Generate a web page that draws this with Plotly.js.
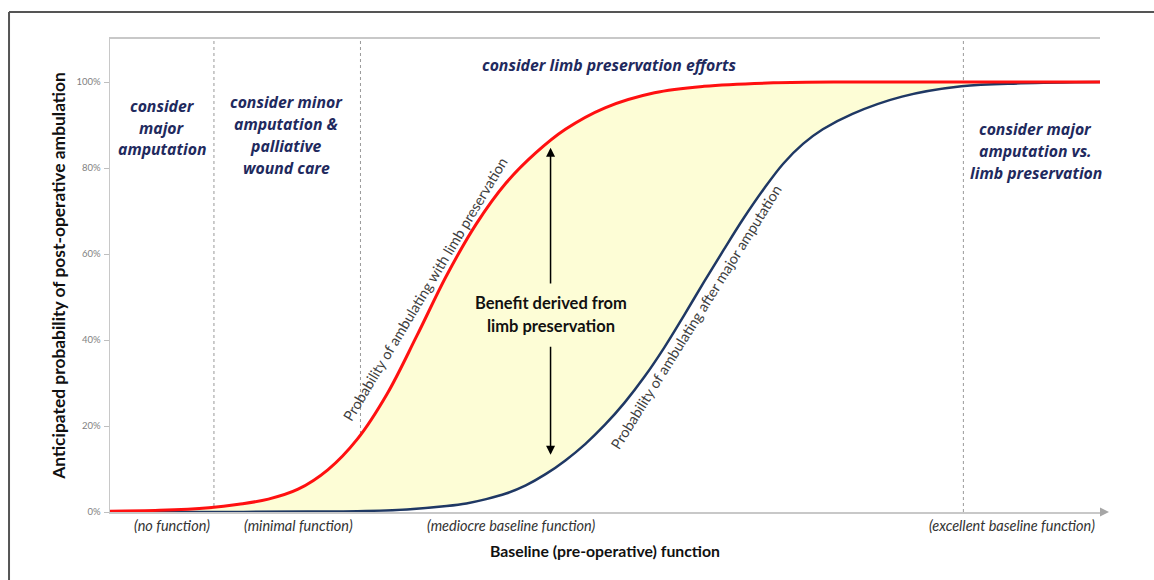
<!DOCTYPE html>
<html>
<head>
<meta charset="utf-8">
<script src="https://cdn.plot.ly/plotly-3.0.1.min.js"></script>
<style>
  html, body { margin: 0; padding: 0; background: #fff; }
  #chart { width: 1154px; height: 580px; }
</style>
</head>
<body>
<div id="chart"></div>
<script>
// ---- data ----
const limbX = [0, 5, 10, 13, 16, 19, 22, 25, 28, 31, 34, 37, 40, 43, 46, 50, 55, 60, 67, 75, 100];
const limbY = [0.2, 0.4, 1.0, 1.8, 3.0, 5.3, 9.8, 17, 27.5, 41, 55, 67, 76.5, 83.5, 89, 94, 97.5, 99, 99.8, 100, 100];

const ampX = [0, 10, 20, 25, 30, 34, 36, 38, 40, 42, 44, 46, 48, 50, 52, 54, 56, 58, 60, 62, 64, 66, 68, 70, 72, 75, 80, 86, 92, 100];
const ampY = [0, 0, 0.1, 0.2, 0.6, 1.4, 2, 3, 4.3, 6.2, 8.8, 12, 15.8, 20.3, 25.5, 31.5, 38.3, 45.8, 53.5, 61, 68.3, 75, 81, 85.6, 89, 92.6, 96.6, 99, 99.7, 100];

const yTickVals = [0, 20, 40, 60, 80, 100];
const yTickText = ['0%', '20%', '40%', '60%', '80%', '100%'];

const zoneBounds = [10.5, 25.3, 86.2];

const zoneLabels = [
  ['consider', 'major', 'amputation'],
  ['consider minor', 'amputation &', 'palliative', 'wound care'],
  ['consider limb preservation efforts'],
  ['consider major', 'amputation vs.', 'limb preservation']
];
const baselineLabels = ['(no function)', '(minimal function)', '(mediocre baseline function)', '(excellent baseline function)'];
const curveLabels = ['Probability of ambulating with limb preservation', 'Probability of ambulating after major amputation'];
const benefitLabel = ['Benefit derived from', 'limb preservation'];
const xTitle = 'Baseline (pre-operative) function';
const yTitle = 'Anticipated probability of post-operative ambulation';

// ---- styling / positions ----
const NAVY = '#1f2a5e';
const FONT = 'Lato, "Open Sans", sans-serif';
const labelFont = { family: '"Open Sans", Lato, sans-serif', size: 15.8, color: NAVY, weight: 'bold', style: 'italic' };

const zonePos = [
  { x: 5.3, y: 89.4, step: 5.04 },
  { x: 17.8, y: 87.7, step: 5.07 },
  { x: 50.4, y: 104.0, step: 5 },
  { x: 93.5, y: 84.0, step: 5.05 }
];

const annotations = [];
zoneLabels.forEach((lines, i) => {
  const p = zonePos[i];
  const n = lines.length;
  lines.forEach((t, j) => {
    annotations.push({
      x: p.x, y: p.y + ((n - 1) / 2 - j) * p.step, xref: 'x', yref: 'y',
      text: t, showarrow: false, font: labelFont, xanchor: 'center', yanchor: 'middle'
    });
  });
});

const baseX = [6.3, 19.0, 40.6, 91.1];
baselineLabels.forEach((t, i) => {
  annotations.push({
    x: baseX[i], y: -13 / 473, xref: 'x', yref: 'paper', text: t, showarrow: false,
    font: { family: FONT, size: 14.5, color: '#333', style: 'italic' },
    xanchor: 'center', yanchor: 'middle'
  });
});

// curve labels
annotations.push({
  x: 31.8, y: 51.8, xref: 'x', yref: 'y', text: curveLabels[0], showarrow: false,
  textangle: -59, font: { family: FONT, size: 14.5, color: '#404040' }
});
annotations.push({
  x: 59.15, y: 45.3, xref: 'x', yref: 'y', text: curveLabels[1], showarrow: false,
  textangle: -58, font: { family: FONT, size: 14.5, color: '#404040' }
});

// benefit label
benefitLabel.forEach((t, j) => {
  annotations.push({
    x: 44.5, y: 46.0 + (0.5 - j) * 5.35, xref: 'x', yref: 'y', text: t, showarrow: false,
    font: { family: FONT, size: 16.5, color: '#111', weight: 'bold' }
  });
});

// double arrow (two halves)
annotations.push({
  x: 44.5, y: 84.7, ax: 44.5, ay: 52.8, xref: 'x', yref: 'y', axref: 'x', ayref: 'y',
  text: '', showarrow: true, arrowhead: 2, arrowsize: 1.2, arrowwidth: 1.5, arrowcolor: '#000'
});
annotations.push({
  x: 44.5, y: 13.3, ax: 44.5, ay: 38.8, xref: 'x', yref: 'y', axref: 'x', ayref: 'y',
  text: '', showarrow: true, arrowhead: 2, arrowsize: 1.2, arrowwidth: 1.5, arrowcolor: '#000'
});

// shapes
const shapes = zoneBounds.map(v => ({
  type: 'line', xref: 'x', yref: 'paper', x0: v, x1: v, y0: 0, y1: 1,
  line: { color: '#9a9a9a', width: 1, dash: '3px,3px' }, layer: 'below'
}));
// frame of the figure (left + top)
shapes.push({ type: 'line', xref: 'paper', yref: 'paper', x0: -0.102, x1: -0.102, y0: -0.2, y1: 1.0571, line: { color: '#555', width: 2 } });
shapes.push({ type: 'line', xref: 'paper', yref: 'paper', x0: -0.102, x1: 1.1, y0: 1.0571, y1: 1.0571, line: { color: '#555', width: 2 } });
// axis arrowhead
shapes.push({ type: 'path', xref: 'paper', yref: 'paper', path: 'M 1.0,-0.0095 L 1.0091,0 L 1.0,0.0095 Z', fillcolor: '#a6a6a6', line: { width: 0 } });

const traces = [
  { x: ampX, y: ampY, type: 'scatter', mode: 'lines', line: { color: '#1f3864', width: 2.5, shape: 'spline', smoothing: 1 }, hoverinfo: 'skip' },
  { x: limbX, y: limbY, type: 'scatter', mode: 'lines', fill: 'tonexty', fillcolor: '#fdfdd6', line: { color: '#ff1010', width: 3, shape: 'spline', smoothing: 1 }, hoverinfo: 'skip' }
];

const layout = {
  width: 1154, height: 580,
  margin: { l: 110, r: 54, t: 39, b: 68 },
  paper_bgcolor: '#fff', plot_bgcolor: '#fff',
  showlegend: false,
  xaxis: {
    range: [0, 100], showgrid: false, zeroline: false, showticklabels: false, ticks: '',
    showline: true, linecolor: '#c8c8c8', linewidth: 2, mirror: true,
    title: { text: xTitle, font: { family: FONT, size: 15.8, color: '#111', weight: 'bold' }, standoff: 33 }
  },
  yaxis: {
    range: [0, 110], showgrid: false, zeroline: false,
    tickvals: yTickVals, ticktext: yTickText, ticks: 'outside', ticklen: 5, tickcolor: '#bfbfbf',
    ticklabelstandoff: 1,
    tickfont: { family: FONT, size: 9.5, color: '#7f7f7f' },
    showline: true, linecolor: '#c8c8c8', linewidth: 1.5,
    title: { text: yTitle, font: { family: FONT, size: 17.4, color: '#111', weight: 'bold' }, standoff: 6 }
  },
  annotations: annotations,
  shapes: shapes
};

Plotly.newPlot('chart', traces, layout, { displayModeBar: false, staticPlot: true });
</script>
</body>
</html>
